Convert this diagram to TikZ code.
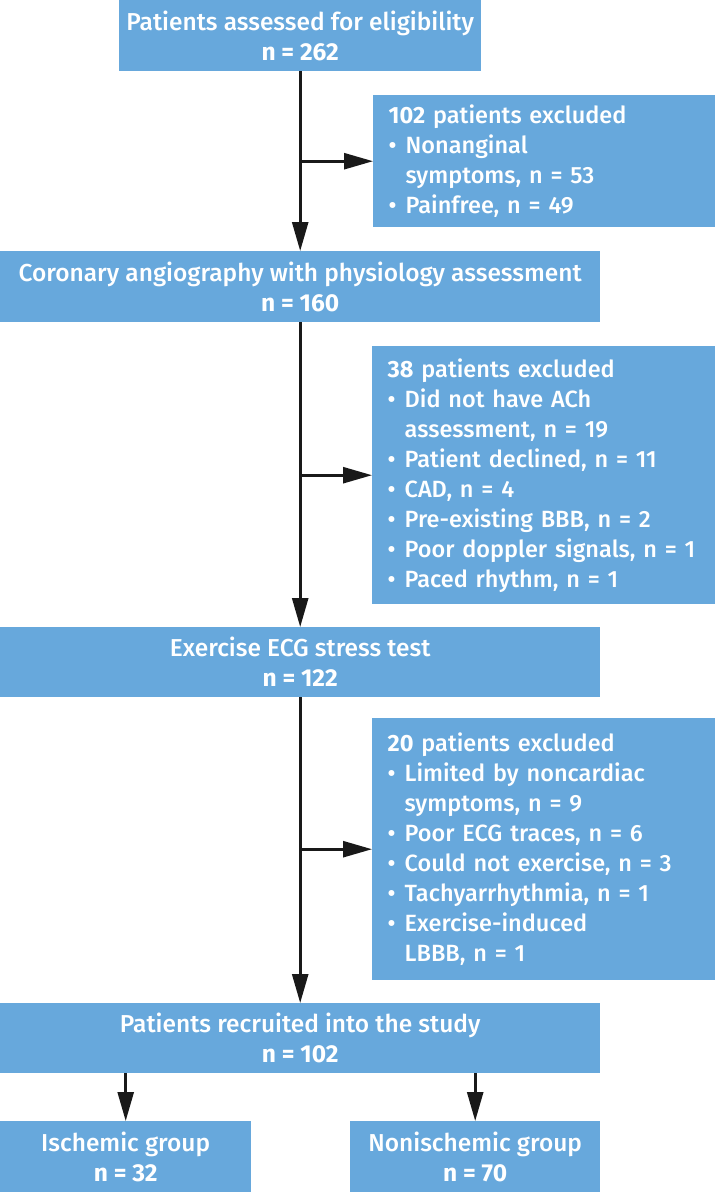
\documentclass[tikz,border=0pt]{standalone}
\usepackage{fontspec}
\setmainfont{Fira Sans}[UprightFont={* Medium}]
\newfontfamily\firareg{Fira Sans}
\usepackage{tikz}
\usetikzlibrary{arrows.meta}
\definecolor{flowblue}{RGB}{103,168,220}
\newcommand{\nb}[1]{{\firareg\bfseries #1}}
\newcommand{\bul}{\makebox[17pt][l]{\textbullet}}
\newcommand{\ind}{\hspace*{17pt}}
\tikzset{
    box/.style={fill=flowblue, text=white, anchor=north west, align=center, inner sep=0pt,
        font=\fontsize{24.5}{30}\selectfont},
    exclbox/.style={box, text width=312pt, align=left, inner xsep=15.5pt,
        font=\fontsize{23.5}{30}\selectfont},
    arr/.style={line width=2.6pt, draw=black!90, -{Triangle[length=29pt,width=16pt]}}
}

\begin{document}
\begin{tikzpicture}[x=1pt,y=-1pt]
        \useasboundingbox (0,0) rectangle (715,1192);
        \node[box, minimum width=362pt, minimum height=71pt] (assess) at (119,0)
            {Patients assessed for eligibility\\ \nb{n = 262}};
        \node[exclbox, minimum width=342pt, minimum height=132pt] (excl1) at (373,95)
            {\nb{102} patients excluded\\ \bul Nonanginal\\ \ind symptoms, n = 53\\ \bul Painfree, n = 49};
        \node[box, minimum width=600pt, minimum height=71pt] (angio) at (0,251)
            {Coronary angiography with physiology assessment\\ \nb{n = 160}};
        \node[exclbox, minimum width=343pt, minimum height=258pt] (excl2) at (372,346)
            {\nb{38} patients excluded\\ \bul Did not have ACh\\ \ind assessment, n = 19\\ \bul Patient declined, n = 11\\
             \bul CAD, n = 4\\ \bul Pre-existing BBB, n = 2\\ \bul Poor doppler signals, n = 1\\ \bul Paced rhythm, n = 1};
        \node[box, minimum width=600pt, minimum height=70pt] (ecg) at (0,627)
            {Exercise ECG stress test\\ \nb{n = 122}};
        \node[exclbox, minimum width=343pt, minimum height=262pt] (excl3) at (372,718)
            {\nb{20} patients excluded\\ \bul Limited by noncardiac\\ \ind symptoms, n = 9\\ \bul Poor ECG traces, n = 6\\
             \bul Could not exercise, n = 3\\ \bul Tachyarrhythmia, n = 1\\ \bul Exercise-induced\\ \ind LBBB, n = 1};
        \node[box, minimum width=600pt, minimum height=70pt] (recruit) at (0,1003)
            {Patients recruited into the study\\ \nb{n = 102}};
        \node[box, minimum width=251pt, minimum height=71pt] (isch) at (0,1121)
            {Ischemic group\\ \nb{n = 32}};
        \node[box, minimum width=250pt, minimum height=71pt] (nonisch) at (350,1121)
            {Nonischemic group\\ \nb{n = 70}};

        \draw[arr] (assess) -- (angio);
        \draw[arr] (angio) -- (ecg);
        \draw[arr] (ecg) -- (recruit);
        \draw[arr] (assess.south |- excl1.west) -- (excl1.west);
        \draw[arr] (angio.south |- excl2.west) -- (excl2.west);
        \draw[arr] (ecg.south |- excl3.west) -- (excl3.west);
        \draw[arr] (isch.north |- recruit.south) -- (isch.north);
        \draw[arr] (nonisch.north |- recruit.south) -- (nonisch.north);
        \end{tikzpicture}
\end{document}
